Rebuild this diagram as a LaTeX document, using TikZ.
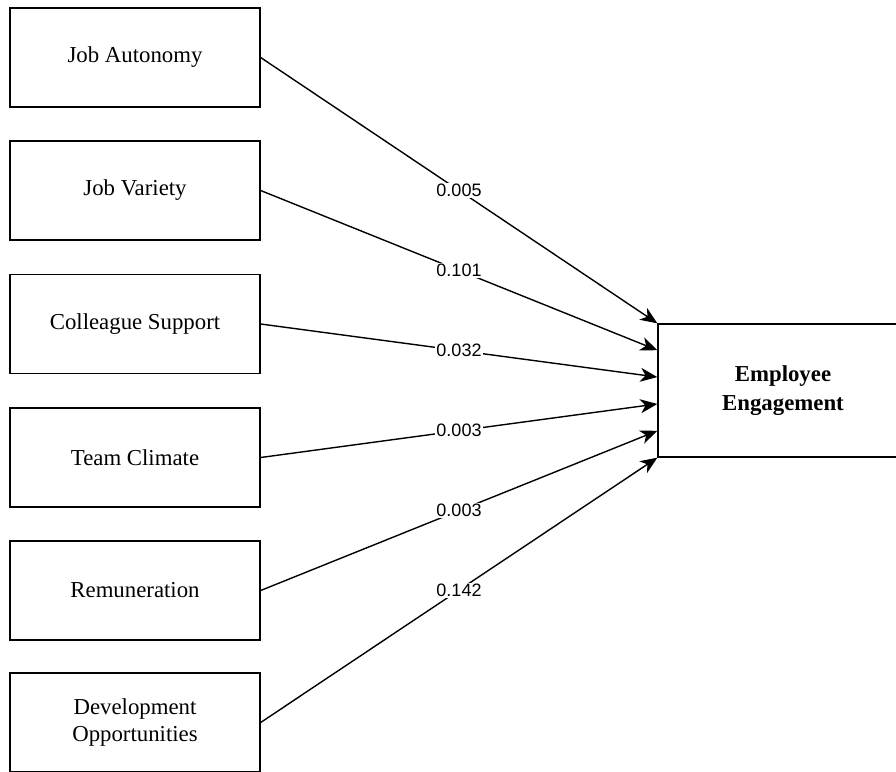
\documentclass[tikz,border=0pt]{standalone}
\usepackage{fontspec}
\setmainfont{Liberation Serif}
\newfontfamily\labelfont{Liberation Sans}
\usetikzlibrary{arrows.meta,calc}
\tikzset{
  factor/.style={draw, line width=1.3pt, minimum width=250pt, minimum height=99pt,
    align=center, inner sep=0pt, font=\fontsize{22.8}{27.5}\selectfont},
  target/.style={draw, line width=1.3pt, minimum width=250pt, minimum height=133pt,
    align=center, inner sep=0pt, font=\fontsize{22.8}{28.5}\selectfont\bfseries},
  link/.style={line width=1.4pt, -{Stealth[length=17pt, width=14pt, inset=5pt]}},
  coef/.style={midway, fill=white, inner sep=1.2pt, font=\labelfont\fontsize{18}{20}\selectfont}
}
\begin{document}
\begin{tikzpicture}[x=1pt, y=-1pt]
\useasboundingbox (0,0) rectangle (896,771);
\node[factor] (ja) at (135,57.5) {Job Autonomy};
\node[factor] (jv) at (135,190.5) {Job Variety};
\node[factor] (cs) at (135,324) {Colleague Support};
\node[factor] (tc) at (135,457.5) {Team Climate};
\node[factor] (re) at (135,590.5) {Remuneration};
\node[factor] (do) at (135,722.5) {Development\\Opportunities};
\node[target] (ee) at (783,390.5) {Employee\\Engagement};
\foreach \k in {0,...,5} {
  \coordinate (in\k) at ($(ee.north west)!\k/5!(ee.south west)$);
}
\draw[link] (ja.east) -- (in0) node[coef] {0.005};
\draw[link] (jv.east) -- (in1) node[coef] {0.101};
\draw[link] (cs.east) -- (in2) node[coef] {0.032};
\draw[link] (tc.east) -- (in3) node[coef] {0.003};
\draw[link] (re.east) -- (in4) node[coef] {0.003};
\draw[link] (do.east) -- (in5) node[coef] {0.142};
\end{tikzpicture}
\end{document}
